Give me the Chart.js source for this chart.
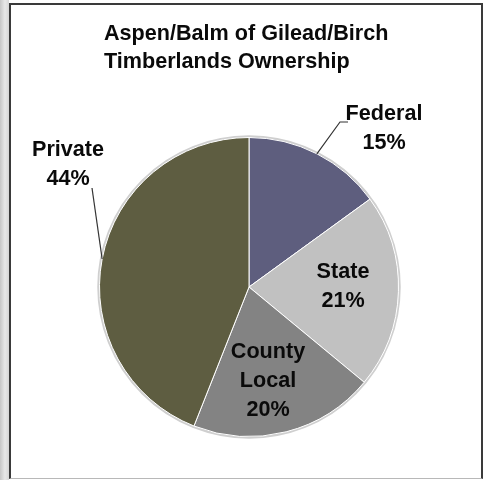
<!DOCTYPE html>
<html>
<head>
<meta charset="utf-8">
<script src="https://cdn.jsdelivr.net/npm/chart.js@4"></script>
<style>
  html, body { margin: 0; padding: 0; background: #fff; }
  body { width: 486px; height: 480px; position: relative; overflow: hidden; }
  .edge { position: absolute; left: 0; top: 0; width: 9px; height: 480px;
          background: linear-gradient(to right, #c6c6c6, #e8e8e8 55%, #d6d6d6); }
  .frame { position: absolute; left: 9px; top: 3px; width: 470px; height: 473px;
           border: 2px solid #3a3a3a; border-bottom: 1px solid #b8b8b8; }
  canvas { position: absolute; left: 0; top: 0; }
</style>
</head>
<body>
<div class="edge"></div>
<div class="frame"><canvas id="pie" width="470" height="473"></canvas></div>
<script>
const titleLines = ['Aspen/Balm of Gilead/Birch', 'Timberlands Ownership'];
const owners = [['Federal'], ['State'], ['County', 'Local'], ['Private']];
const shares = [15, 21, 20, 44];
const sliceColors = ['#5e5e7e', '#c1c1c1', '#838383', '#5e5d41'];

const FONT = 'bold 21.6px "Liberation Sans", Arial, sans-serif';

// label block centres and leader bends, relative to the pie centre
const labelSpots = [
  { at: [135, -158.5], leader: [[91, -165], [99, -165]] },
  { at: [94, 0] },
  { at: [19, 94] },
  { at: [-181, -122.5], leader: [[-157, -99]] }
];

const pieDecor = {
  id: 'pieDecor',
  beforeDatasetsDraw(chart) {
    const arc = chart.getDatasetMeta(0).data[0];
    if (!arc) return;
    const ctx = chart.ctx;
    ctx.save();
    ctx.beginPath();
    ctx.arc(arc.x, arc.y, arc.outerRadius + 1, 0, Math.PI * 2);
    ctx.strokeStyle = '#cfcfcf';
    ctx.lineWidth = 2.5;
    ctx.stroke();
    ctx.restore();
  },
  afterDraw(chart) {
    const ctx = chart.ctx;
    ctx.save();
    ctx.font = FONT;
    ctx.fillStyle = '#0a0a0a';

    // title, left aligned
    ctx.textAlign = 'left';
    ctx.textBaseline = 'alphabetic';
    titleLines.forEach((t, i) => ctx.fillText(t, 93, 35 + i * 28));

    const meta = chart.getDatasetMeta(0);
    const total = shares.reduce((a, b) => a + b, 0);
    ctx.textAlign = 'center';
    ctx.textBaseline = 'middle';
    meta.data.forEach((arc, i) => {
      const spot = labelSpots[i];
      const lines = owners[i].concat(Math.round(shares[i] / total * 100) + '%');
      const lh = 29;
      const cx = arc.x + spot.at[0];
      const cy = arc.y + spot.at[1];
      lines.forEach((t, j) => {
        ctx.fillText(t, cx, cy + (j - (lines.length - 1) / 2) * lh);
      });
      if (spot.leader) {
        const mid = (arc.startAngle + arc.endAngle) / 2;
        ctx.beginPath();
        ctx.moveTo(arc.x + Math.cos(mid) * arc.outerRadius, arc.y + Math.sin(mid) * arc.outerRadius);
        spot.leader.forEach(p => ctx.lineTo(arc.x + p[0], arc.y + p[1]));
        ctx.strokeStyle = '#333';
        ctx.lineWidth = 1.2;
        ctx.stroke();
      }
    });
    ctx.restore();
  }
};

new Chart(document.getElementById('pie'), {
  type: 'pie',
  data: {
    labels: owners.map(o => o.join(' ')),
    datasets: [{
      data: shares,
      backgroundColor: sliceColors,
      borderColor: '#ffffff',
      borderWidth: 1
    }]
  },
  options: {
    responsive: false,
    animation: false,
    layout: { padding: { left: 88, right: 82, top: 132, bottom: 41 } },
    plugins: {
      legend: { display: false },
      title: { display: false },
      tooltip: { enabled: false }
    }
  },
  plugins: [pieDecor]
});
</script>
</body>
</html>
